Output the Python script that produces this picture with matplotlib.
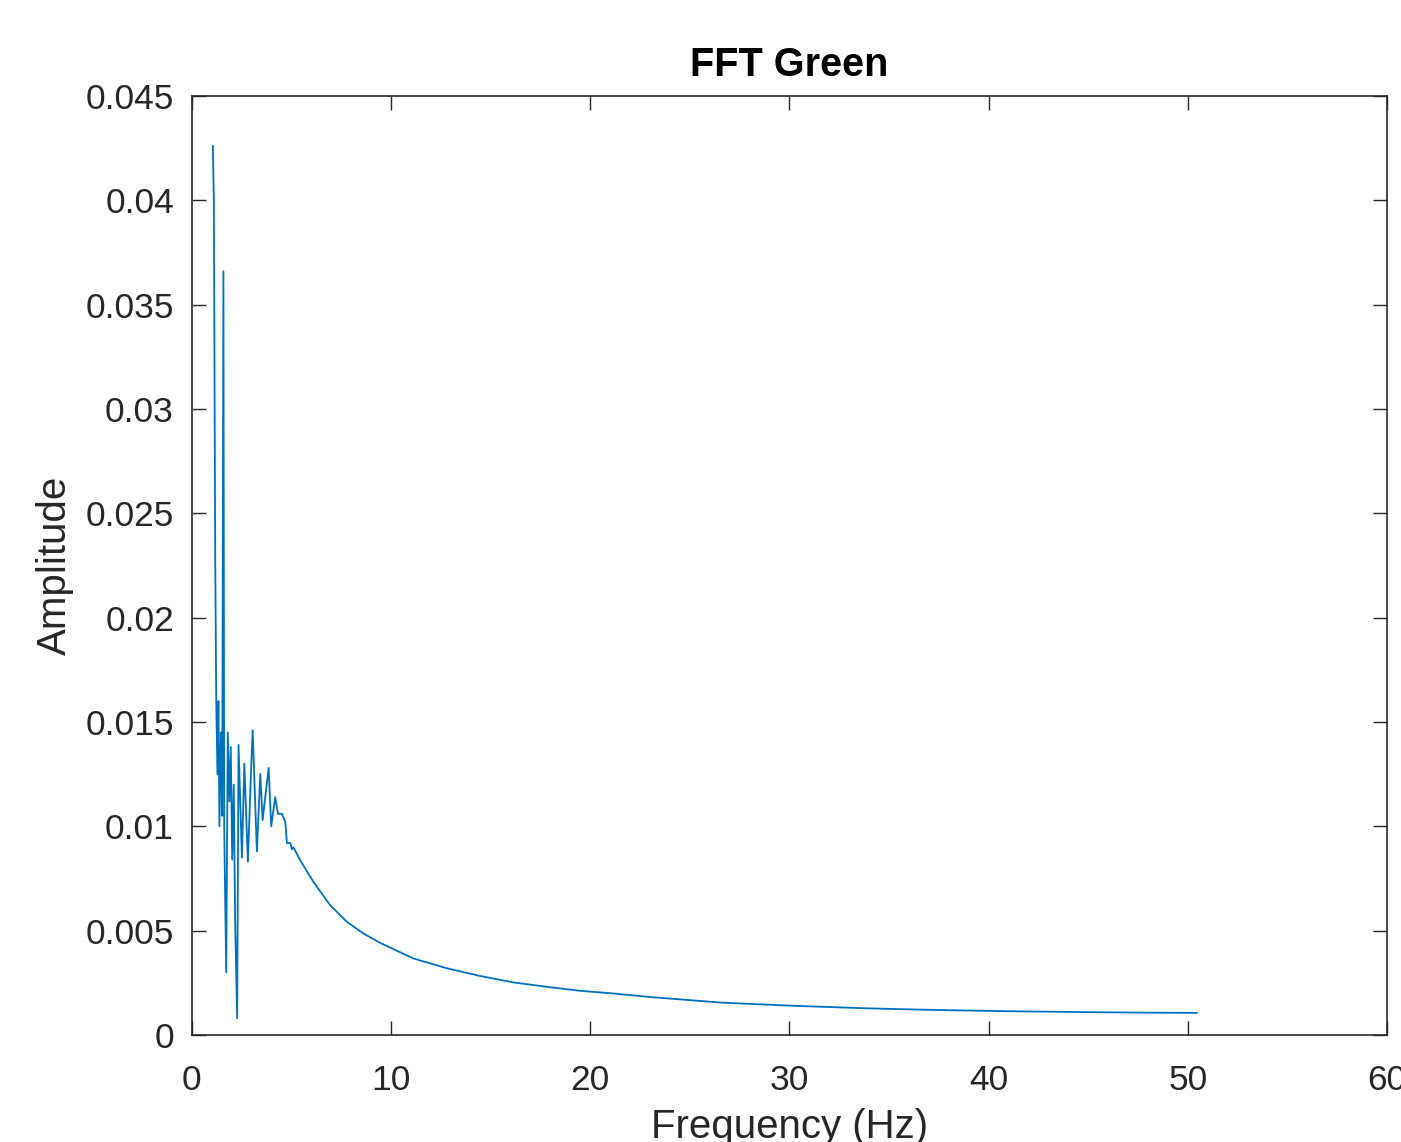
import matplotlib
matplotlib.use("Agg")
import matplotlib.pyplot as plt

plt.rcParams['font.family'] = ['Liberation Sans', 'DejaVu Sans']

freq = [1.05, 1.10, 1.17, 1.22, 1.28, 1.33, 1.38, 1.45, 1.52, 1.58, 1.62, 1.72,
        1.80, 1.88, 1.95, 2.02, 2.10, 2.17, 2.27, 2.34, 2.51, 2.63, 2.81, 2.96,
        3.05, 3.26, 3.43, 3.55, 3.68, 3.85, 3.98, 4.18, 4.32, 4.52, 4.69, 4.77,
        4.94, 5.02, 5.09, 5.42, 6.09, 6.93, 7.77, 8.60, 9.44, 11.11, 12.79,
        14.46, 16.13, 17.80, 19.48, 21.15, 23.0, 26.6, 30.2, 33.8, 37.3, 40.9,
        44.5, 48.1, 50.45]
amp = [0.0426, 0.0400, 0.0228, 0.0160, 0.0125, 0.0160, 0.0100, 0.0145, 0.0105,
       0.0366, 0.0100, 0.0030, 0.0145, 0.0112, 0.0138, 0.0084, 0.0120, 0.0054,
       0.0008, 0.0139, 0.0085, 0.0130, 0.0083, 0.0125, 0.0146, 0.0088, 0.0125,
       0.0103, 0.0114, 0.0128, 0.0100, 0.0114, 0.0106, 0.0106, 0.0102, 0.0092,
       0.0092, 0.0089, 0.0090, 0.0084, 0.00735, 0.00623, 0.00543, 0.00487,
       0.00442, 0.00367, 0.00320, 0.00283, 0.00252, 0.00231, 0.00212, 0.00199,
       0.00182, 0.00155, 0.00140, 0.00128, 0.00120, 0.00114, 0.00110, 0.00107,
       0.00106]

xticks = [0, 10, 20, 30, 40, 50, 60]
yticks = [0, 0.005, 0.01, 0.015, 0.02, 0.025, 0.03, 0.035, 0.04, 0.045]
ytick_labels = ['0', '0.005', '0.01', '0.015', '0.02', '0.025', '0.03', '0.035', '0.04', '0.045']

fig = plt.figure(figsize=(14.01, 11.42), dpi=100)
ax = fig.add_axes([0.137, 0.0937, 0.853, 0.8223])
ax.plot(freq, amp, color='#0072BD', linewidth=1.3)
ax.set_xlim(0, 60)
ax.set_ylim(0, 0.045)
ax.set_xticks(xticks)
ax.set_xticklabels([str(t) for t in xticks])
ax.set_yticks(yticks)
ax.set_yticklabels(ytick_labels)
ax.tick_params(direction='in', length=10, width=1, top=True, right=True,
               labelsize=25.5, colors='#262626')
ax.tick_params(axis='x', pad=21)
ax.tick_params(axis='y', pad=13)
for s in ax.spines.values():
    s.set_color('#262626')
    s.set_linewidth(1.2)
ax.set_title('FFT Green', fontsize=28.5, fontweight='bold', pad=14)
ax.set_xlabel('Frequency (Hz)', fontsize=29, color='#262626', labelpad=8)
ax.set_ylabel('Amplitude', fontsize=29, color='#262626', labelpad=8)
fig.savefig('out.png', dpi=100)
